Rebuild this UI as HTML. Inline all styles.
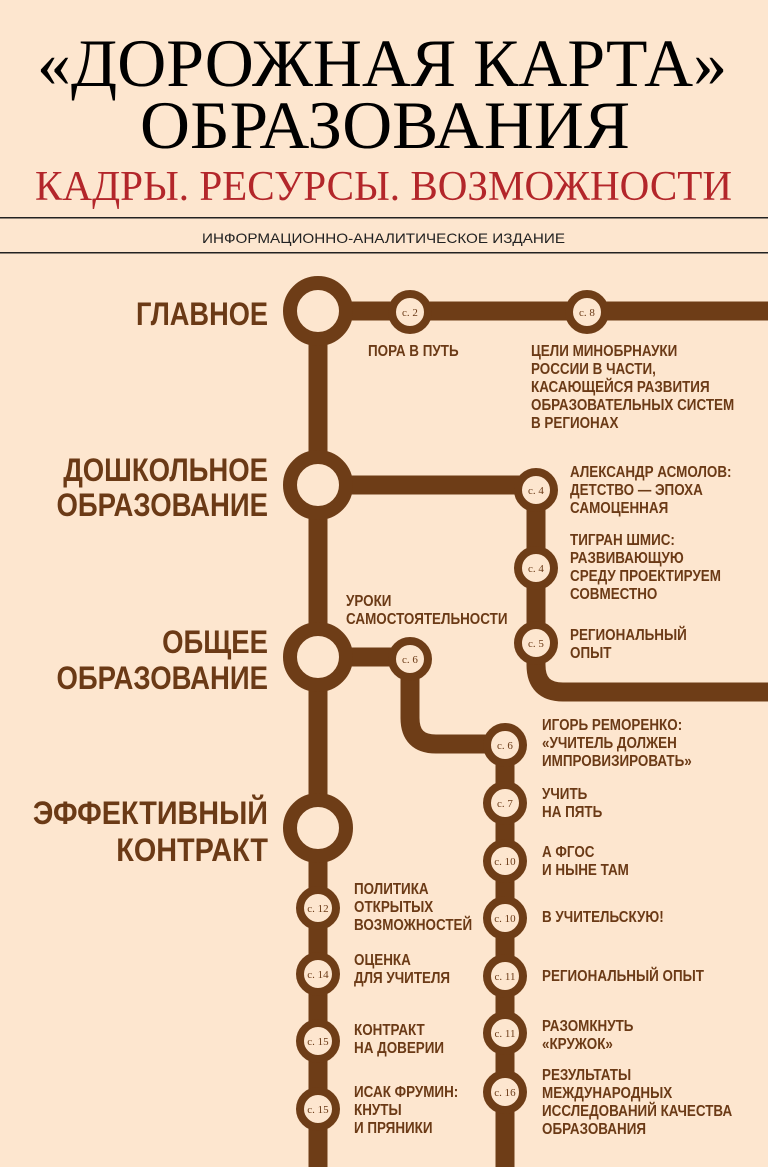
<!DOCTYPE html>
<html><head><meta charset="utf-8"><style>
html,body{margin:0;padding:0;background:#fde6cf;}
svg{display:block}
.t{font-family:"Liberation Serif",serif;}
.s{font-family:"Liberation Sans",sans-serif;font-weight:bold;fill:#6b3a16;}
.p{font-family:"Liberation Serif",serif;font-size:11px;fill:#6b3a16;text-anchor:middle;}
</style></head><body>
<svg width="768" height="1167" viewBox="0 0 768 1167" xmlns="http://www.w3.org/2000/svg">
<rect width="768" height="1167" fill="#fde6cf"/>
<text class="t" x="37" y="86" font-size="68" textLength="690" lengthAdjust="spacingAndGlyphs">«ДОРОЖНАЯ КАРТА»</text>
<text class="t" x="140" y="148" font-size="68" textLength="490" lengthAdjust="spacingAndGlyphs">ОБРАЗОВАНИЯ</text>
<text class="t" x="35" y="200" font-size="42" fill="#b3262a" textLength="697" lengthAdjust="spacingAndGlyphs">КАДРЫ. РЕСУРСЫ. ВОЗМОЖНОСТИ</text>
<rect x="0" y="217" width="768" height="1.5" fill="#222"/>
<rect x="0" y="252" width="768" height="1.5" fill="#222"/>
<text x="202" y="243" font-family="Liberation Sans,sans-serif" font-size="14" fill="#222" textLength="363" lengthAdjust="spacingAndGlyphs">ИНФОРМАЦИОННО-АНАЛИТИЧЕСКОЕ ИЗДАНИЕ</text>

<g fill="none" stroke="#6e3d17" stroke-width="19">
<line x1="318" y1="310" x2="318" y2="1167"/>
<line x1="318" y1="311" x2="768" y2="311"/>
<path d="M318 485 H536 V665 Q536 692 563 692 H768"/>
<path d="M318 657 H410 V718 Q410 744 436 744 H505 V1167"/>
</g>
<g fill="#fde6cf" stroke="#6e3d17" stroke-width="14">
<circle cx="318" cy="311" r="28"/>
<circle cx="318" cy="485" r="28"/>
<circle cx="318" cy="657" r="28"/>
<circle cx="318" cy="828" r="28"/>
</g>
<g fill="#fde6cf" stroke="#6e3d17" stroke-width="8">
<circle cx="410" cy="312" r="18"/>
<circle cx="587" cy="312" r="18"/>
<circle cx="536" cy="490" r="18"/>
<circle cx="536" cy="568" r="18"/>
<circle cx="536" cy="643" r="18"/>
<circle cx="410" cy="659" r="18"/>
<circle cx="505" cy="745" r="18"/>
<circle cx="505" cy="803" r="18"/>
<circle cx="505" cy="861" r="18"/>
<circle cx="505" cy="918" r="18"/>
<circle cx="505" cy="976" r="18"/>
<circle cx="505" cy="1033" r="18"/>
<circle cx="505" cy="1092" r="18"/>
<circle cx="318" cy="908" r="18"/>
<circle cx="318" cy="974" r="18"/>
<circle cx="318" cy="1041" r="18"/>
<circle cx="318" cy="1109" r="18"/>
</g>
<g class="p">
<text x="410" y="316">с. 2</text><text x="587" y="316">с. 8</text>
<text x="536" y="494">с. 4</text><text x="536" y="572">с. 4</text><text x="536" y="647">с. 5</text>
<text x="410" y="663">с. 6</text><text x="505" y="749">с. 6</text><text x="505" y="807">с. 7</text>
<text x="505" y="865">с. 10</text><text x="505" y="922">с. 10</text><text x="505" y="980">с. 11</text>
<text x="505" y="1037">с. 11</text><text x="505" y="1096">с. 16</text>
<text x="318" y="912">с. 12</text><text x="318" y="978">с. 14</text><text x="318" y="1045">с. 15</text><text x="318" y="1113">с. 15</text>
</g>
<g class="s" font-size="32" text-anchor="end">
<text transform="translate(268,325) scale(0.85,1)">ГЛАВНОЕ</text>
<text transform="translate(268,481) scale(0.86,1)">ДОШКОЛЬНОЕ</text>
<text transform="translate(268,516) scale(0.86,1)">ОБРАЗОВАНИЕ</text>
<text transform="translate(268,653) scale(0.86,1)">ОБЩЕЕ</text>
<text transform="translate(268,689) scale(0.86,1)">ОБРАЗОВАНИЕ</text>
<text transform="translate(268,824) scale(0.9,1)">ЭФФЕКТИВНЫЙ</text>
<text transform="translate(268,861) scale(0.9,1)">КОНТРАКТ</text>
</g>
<g class="s" font-size="16">
<text transform="translate(368,356) scale(0.84,1)">ПОРА В ПУТЬ</text>
<text transform="translate(531,356) scale(0.84,1)">ЦЕЛИ МИНОБРНАУКИ</text>
<text transform="translate(531,374) scale(0.84,1)">РОССИИ В ЧАСТИ,</text>
<text transform="translate(531,392) scale(0.84,1)">КАСАЮЩЕЙСЯ РАЗВИТИЯ</text>
<text transform="translate(531,410) scale(0.84,1)">ОБРАЗОВАТЕЛЬНЫХ СИСТЕМ</text>
<text transform="translate(531,428) scale(0.84,1)">В РЕГИОНАХ</text>
<text transform="translate(570,477) scale(0.84,1)">АЛЕКСАНДР АСМОЛОВ:</text>
<text transform="translate(570,495) scale(0.84,1)">ДЕТСТВО — ЭПОХА</text>
<text transform="translate(570,513) scale(0.84,1)">САМОЦЕННАЯ</text>
<text transform="translate(570,545) scale(0.84,1)">ТИГРАН ШМИС:</text>
<text transform="translate(570,563) scale(0.84,1)">РАЗВИВАЮЩУЮ</text>
<text transform="translate(570,581) scale(0.84,1)">СРЕДУ ПРОЕКТИРУЕМ</text>
<text transform="translate(570,599) scale(0.84,1)">СОВМЕСТНО</text>
<text transform="translate(346,606) scale(0.84,1)">УРОКИ</text>
<text transform="translate(346,624) scale(0.84,1)">САМОСТОЯТЕЛЬНОСТИ</text>
<text transform="translate(570,640) scale(0.84,1)">РЕГИОНАЛЬНЫЙ</text>
<text transform="translate(570,658) scale(0.84,1)">ОПЫТ</text>
<text transform="translate(542,730) scale(0.84,1)">ИГОРЬ РЕМОРЕНКО:</text>
<text transform="translate(542,748) scale(0.84,1)">«УЧИТЕЛЬ ДОЛЖЕН</text>
<text transform="translate(542,766) scale(0.84,1)">ИМПРОВИЗИРОВАТЬ»</text>
<text transform="translate(542,799) scale(0.84,1)">УЧИТЬ</text>
<text transform="translate(542,817) scale(0.84,1)">НА ПЯТЬ</text>
<text transform="translate(542,857) scale(0.84,1)">А ФГОС</text>
<text transform="translate(542,875) scale(0.84,1)">И НЫНЕ ТАМ</text>
<text transform="translate(542,922) scale(0.84,1)">В УЧИТЕЛЬСКУЮ!</text>
<text transform="translate(542,981) scale(0.84,1)">РЕГИОНАЛЬНЫЙ ОПЫТ</text>
<text transform="translate(542,1031) scale(0.84,1)">РАЗОМКНУТЬ</text>
<text transform="translate(542,1049) scale(0.84,1)">«КРУЖОК»</text>
<text transform="translate(542,1080) scale(0.84,1)">РЕЗУЛЬТАТЫ</text>
<text transform="translate(542,1098) scale(0.84,1)">МЕЖДУНАРОДНЫХ</text>
<text transform="translate(542,1116) scale(0.84,1)">ИССЛЕДОВАНИЙ КАЧЕСТВА</text>
<text transform="translate(542,1134) scale(0.84,1)">ОБРАЗОВАНИЯ</text>
<text transform="translate(354,894) scale(0.84,1)">ПОЛИТИКА</text>
<text transform="translate(354,912) scale(0.84,1)">ОТКРЫТЫХ</text>
<text transform="translate(354,930) scale(0.84,1)">ВОЗМОЖНОСТЕЙ</text>
<text transform="translate(354,965) scale(0.84,1)">ОЦЕНКА</text>
<text transform="translate(354,983) scale(0.84,1)">ДЛЯ УЧИТЕЛЯ</text>
<text transform="translate(354,1035) scale(0.84,1)">КОНТРАКТ</text>
<text transform="translate(354,1053) scale(0.84,1)">НА ДОВЕРИИ</text>
<text transform="translate(354,1097) scale(0.84,1)">ИСАК ФРУМИН:</text>
<text transform="translate(354,1115) scale(0.84,1)">КНУТЫ</text>
<text transform="translate(354,1133) scale(0.84,1)">И ПРЯНИКИ</text>
</g>
</svg>
</body></html>
